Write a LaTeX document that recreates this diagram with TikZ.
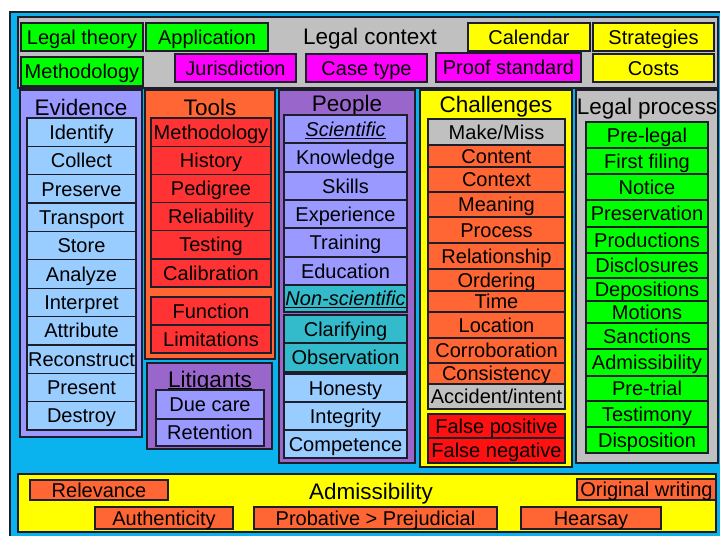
\documentclass[tikz,border=0pt]{standalone}
\usepackage{fontspec}
\setmainfont{Liberation Sans}
\definecolor{bgblue}{HTML}{0AB2EE}
\definecolor{silver}{HTML}{C0C0C0}
\definecolor{lgreen}{HTML}{00FF00}
\definecolor{mag}{HTML}{FF00FF}
\definecolor{yel}{HTML}{FFFF00}
\definecolor{lav}{HTML}{9999FF}
\definecolor{ltblue}{HTML}{99CCFF}
\definecolor{orng}{HTML}{FF6633}
\definecolor{rd}{HTML}{FF3333}
\definecolor{purp}{HTML}{9966CC}
\definecolor{teal2}{HTML}{33BBCC}
\definecolor{red2}{HTML}{FF1111}
\definecolor{edge}{HTML}{1E1E2A}
\tikzset{
 box/.style={draw=edge, line width=1.3pt, inner sep=0pt, outer sep=0pt, text=black,
   font=\fontsize{20}{22}\selectfont, text height=14.3pt, text depth=0pt, align=center},
 panel/.style={draw=edge, line width=1.5pt, inner sep=0pt, outer sep=0pt},
 ttl/.style={inner sep=0pt, text=black, font=\fontsize{22.5}{24}\selectfont, text height=16.1pt, text depth=0pt},
}
% name, x1, y1, x2, y2, style, text
\newcommand{\bxx}[7]{%
  \pgfmathsetmacro\bw{#4-#2}\pgfmathsetmacro\bh{#5-#3}%
  \pgfmathsetmacro\bcx{(#2+#4)/2}\pgfmathsetmacro\bcy{(#3+#5)/2}%
  \node[#6, minimum width=\bw pt, minimum height=\bh pt] (#1) at (\bcx,\bcy) {#7};}
\begin{document}
\begin{tikzpicture}[x=1pt,y=-1pt]
\useasboundingbox (0,0) rectangle (720,536);
% background
\fill[bgblue] (10,12) rectangle (720,536);
\draw[edge, line width=1.5pt] (10,536) -- (10,12) -- (720,12);

% top context panel
\bxx{ctx}{18}{17}{718}{88}{panel, fill=silver}{}
\node[ttl] (ctxt) at (370,36) {Legal context};
\bxx{lt}{21}{23}{143}{51}{box, fill=lgreen}{Legal theory}
\bxx{app}{146}{23}{268}{51}{box, fill=lgreen}{Application}
\bxx{cal}{468}{23}{590}{51}{box, fill=yel}{Calendar}
\bxx{str}{593}{23}{714}{51}{box, fill=yel}{Strategies}
\bxx{meth}{21}{57}{143}{86}{box, fill=lgreen}{Methodology}
\bxx{jur}{175}{54}{296}{82}{box, fill=mag}{Jurisdiction}
\bxx{ct}{306}{54}{427}{82}{box, fill=mag}{Case type}
\bxx{ps}{436}{53}{581}{82}{box, fill=mag}{Proof standard}
\bxx{cost}{593}{54}{714}{82}{box, fill=yel}{Costs}

% Evidence
\bxx{evp}{20}{90}{142}{437}{panel, fill=lav}{}
\node[ttl] (evt) at (81,107) {Evidence};
\foreach \t [count=\i from 0] in {Identify,Collect,Preserve,Transport,Store,Analyze,Interpret,Attribute,Reconstruct,Present,Destroy}{
  \pgfmathsetmacro\yc{118+28.36*\i+14.18}
  \node[box, fill=ltblue, minimum width=109pt, minimum height=28.36pt] (ev\i) at (81.5,\yc) {\t};
}

% Tools
\bxx{top}{145}{90}{275}{359}{panel, fill=orng}{}
\node[ttl] (tot) at (210,107) {Tools};
\foreach \t [count=\i from 0] in {Methodology,History,Pedigree,Reliability,Testing,Calibration}{
  \pgfmathsetmacro\yc{118+28.17*\i+14.08}
  \node[box, fill=rd, minimum width=120pt, minimum height=28.17pt] (to\i) at (211,\yc) {\t};
}
\bxx{tofn}{151}{297}{271}{325}{box, fill=rd}{Function}
\bxx{toli}{151}{325}{271}{353}{box, fill=rd}{Limitations}

% Litigants
\bxx{lip}{147}{363}{272}{449}{panel, fill=purp}{}
\node[ttl] (lit) at (210,379) {\underline{\smash{Litigants}}};
\bxx{lidc}{156}{390}{264}{419}{box, fill=lav}{Due care}
\bxx{lire}{156}{419}{264}{446}{box, fill=lav}{Retention}

% People
\bxx{pep}{279}{90}{415}{463}{panel, fill=purp}{}
\node[ttl] (pet) at (347,103) {People};
\bxx{pe0}{284}{115}{407}{143}{box, fill=lav}{\underline{\textit{Scientific}}}
\bxx{pe1}{284}{143}{407}{172}{box, fill=lav}{Knowledge}
\bxx{pe2}{284}{172}{407}{200}{box, fill=lav}{Skills}
\bxx{pe3}{284}{200}{407}{228}{box, fill=lav}{Experience}
\bxx{pe4}{284}{228}{407}{257}{box, fill=lav}{Training}
\bxx{pe5}{284}{257}{407}{285}{box, fill=lav}{Education}
\bxx{pe6}{284}{285}{407}{312}{box, fill=teal2}{\underline{\textit{Non-scientific}}}
\bxx{pe7}{284}{315}{407}{343}{box, fill=teal2}{Clarifying}
\bxx{pe8}{284}{343}{407}{372}{box, fill=teal2}{Observation}
\bxx{pe9}{284}{374}{407}{402}{box, fill=ltblue}{Honesty}
\bxx{pe10}{284}{402}{407}{430}{box, fill=ltblue}{Integrity}
\bxx{pe11}{284}{430}{407}{458}{box, fill=ltblue}{Competence}

% Challenges
\bxx{chp}{420}{90}{572}{467}{panel, fill=yel}{}
\node[ttl] (cht) at (496,104) {Challenges};
\bxx{ch0}{428}{119}{565}{145}{box, fill=silver}{Make/Miss}
\bxx{ch1}{428}{145}{565}{167}{box, fill=orng}{Content}
\bxx{ch2}{428}{167}{565}{192}{box, fill=orng}{Context}
\bxx{ch3}{428}{192}{565}{217}{box, fill=orng}{Meaning}
\bxx{ch4}{428}{217}{565}{243}{box, fill=orng}{Process}
\bxx{ch5}{428}{243}{565}{269}{box, fill=orng}{Relationship}
\bxx{ch6}{428}{269}{565}{291}{box, fill=orng}{Ordering}
\bxx{ch7}{428}{291}{565}{312}{box, fill=orng}{Time}
\bxx{ch8}{428}{312}{565}{338}{box, fill=orng}{Location}
\bxx{ch9}{428}{338}{565}{363}{box, fill=orng}{Corroboration}
\bxx{ch10}{428}{363}{565}{384}{box, fill=orng}{Consistency}
\bxx{ch11}{428}{384}{565}{409}{box, fill=silver}{Accident/intent}
\bxx{ch12}{428}{414}{565}{438}{box, fill=red2}{False positive}
\bxx{ch13}{428}{438}{565}{463}{box, fill=red2}{False negative}

% Legal process
\bxx{lpp}{576}{90}{718}{463}{panel, fill=silver}{}
\node[ttl] (lpt) at (647,106) {Legal process};
\bxx{lp0}{586}{122}{708}{148}{box, fill=lgreen}{Pre-legal}
\bxx{lp1}{586}{148}{708}{174}{box, fill=lgreen}{First filing}
\bxx{lp2}{586}{174}{708}{200}{box, fill=lgreen}{Notice}
\bxx{lp3}{586}{200}{708}{227}{box, fill=lgreen}{Preservation}
\bxx{lp4}{586}{227}{708}{253}{box, fill=lgreen}{Productions}
\bxx{lp5}{586}{253}{708}{278}{box, fill=lgreen}{Disclosures}
\bxx{lp6}{586}{278}{708}{301}{box, fill=lgreen}{Depositions}
\bxx{lp7}{586}{301}{708}{323}{box, fill=lgreen}{Motions}
\bxx{lp8}{586}{323}{708}{349}{box, fill=lgreen}{Sanctions}
\bxx{lp9}{586}{349}{708}{376}{box, fill=lgreen}{Admissibility}
\bxx{lp10}{586}{376}{708}{401}{box, fill=lgreen}{Pre-trial}
\bxx{lp11}{586}{401}{708}{427}{box, fill=lgreen}{Testimony}
\bxx{lp12}{586}{427}{708}{453}{box, fill=lgreen}{Disposition}

% Admissibility
\bxx{adp}{18}{474}{716}{532}{panel, fill=yel}{}
\node[ttl] (adt) at (371,491) {Admissibility};
\bxx{ad0}{30}{480}{168}{500}{box, fill=orng}{Relevance}
\bxx{ad1}{577}{479}{716}{500}{box, fill=orng}{Original writing}
\bxx{ad2}{95}{507}{233}{529}{box, fill=orng}{Authenticity}
\bxx{ad3}{254}{507}{497}{529}{box, fill=orng}{Probative > Prejudicial}
\bxx{ad4}{521}{507}{661}{529}{box, fill=orng}{Hearsay}
\end{tikzpicture}
\end{document}
